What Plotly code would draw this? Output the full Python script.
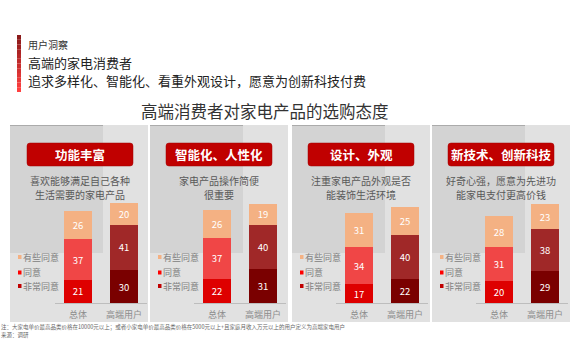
import plotly.graph_objects as go

W, H = 570, 360
FONT = "Noto Sans CJK SC"

# ---- data ----
categories = ["总体", "高端用户"]
levels = ["非常同意", "同意", "有些同意"]          # bottom -> top
legend_order = ["有些同意", "同意", "非常同意"]
headers = ["功能丰富", "智能化、人性化", "设计、外观", "新技术、创新科技"]
desc_line1 = ["喜欢能够满足自己各种", "家电产品操作简便", "注重家电产品外观是否", "好奇心强，愿意为先进功"]
desc_line2 = ["生活需要的家电产品", "很重要", "能装饰生活环境", "能家电支付更高价钱"]
# values per panel: [总体, 高端用户] for each level
very_agree = [[21, 30], [22, 31], [17, 22], [20, 29]]
agree = [[37, 41], [37, 40], [34, 40], [31, 38]]
somewhat_agree = [[26, 20], [26, 19], [31, 25], [28, 23]]

title_main = "高端消费者对家电产品的选购态度"
tag_text = "用户洞察"
head1 = "高端的家电消费者"
head2 = "追求多样化、智能化、看重外观设计，愿意为创新科技付费"
foot1 = "注：大家电单价最高品类价格在10000元以上；或者小家电单价最高品类价格在5000元以上+且家庭月收入万元以上的用户定义为高端家电用户"
foot2 = "来源：调研"

# ---- styles ----
colors_total = ["#de0000", "#f04646", "#f4b183"]
colors_high = ["#7a0000", "#a02828", "#f4b183"]
legend_colors = ["#f4b183", "#ff0000", "#c00000"]
offsets = [0, 139, 281, 421]
panel_starts = [10, 150, 292, 432]


def px(x):
    return x / W


def py(y):
    return 1 - y / H


def ann(x, y, text, size, color, xanchor="center", **kw):
    return dict(x=px(x), y=py(y), xref="paper", yref="paper", text=text,
                showarrow=False, xanchor=xanchor, yanchor="middle", borderpad=0,
                font=dict(size=size, color=color, family=FONT), **kw)


fig = go.Figure()
shapes = []
annotations = []

for p in range(4):
    off = offsets[p]
    xa = "x" if p == 0 else f"x{p+1}"
    ya = "y" if p == 0 else f"y{p+1}"
    series = [very_agree[p], agree[p], somewhat_agree[p]]
    for li, lvl in enumerate(levels):
        vals = series[li]
        fig.add_trace(go.Bar(
            x=categories, y=vals, xaxis=xa, yaxis=ya,
            name=lvl, showlegend=False,
            marker=dict(color=[colors_total[li], colors_high[li]], line=dict(width=0)),
            text=[str(v) for v in vals], textposition="inside",
            insidetextanchor="middle", textangle=0,
            textfont=dict(color="white", size=9.5, family=FONT),
            hoverinfo="skip",
        ))
    d0, d1 = px(55 + off), px(147 + off)
    fig.layout[f"xaxis{'' if p == 0 else p+1}"] = dict(
        domain=[d0, d1], anchor=ya, type="category", range=[-0.5, 1.5],
        showline=True, linecolor="#bdbdbd", linewidth=1, showgrid=False,
        zeroline=False, ticks="", tickfont=dict(size=9, color="#8c8c8c", family=FONT),
        ticklabelstandoff=3, fixedrange=True,
    )
    fig.layout[f"yaxis{'' if p == 0 else p+1}"] = dict(
        domain=[py(303), py(193)], anchor=xa, range=[0, 100], visible=False,
        fixedrange=True,
    )

    # panel backgrounds
    s = panel_starts[p]
    e = min(s + 138, 570)
    shapes.append(dict(type="rect", xref="paper", yref="paper", layer="below",
                       x0=px(s), x1=px(e), y0=py(322), y1=py(125),
                       fillcolor="#e1e1e1", line=dict(width=0)))
    shapes.append(dict(type="rect", xref="paper", yref="paper", layer="below",
                       x0=px(s), x1=px(s + 93), y0=py(253), y1=py(125),
                       fillcolor="#d3d3d3", line=dict(width=0)))
    shapes.append(dict(type="line", xref="paper", yref="paper", layer="below",
                       x0=px(s), x1=px(s + 93), y0=py(125.5), y1=py(125.5),
                       line=dict(color="#ababab", width=1)))

    # header rounded red box
    x0, x1, y0, y1, r = 27 + off, 133 + off, 143, 166, 3
    path = (f"M {px(x0+r)},{py(y0)} L {px(x1-r)},{py(y0)} Q {px(x1)},{py(y0)} {px(x1)},{py(y0+r)} "
            f"L {px(x1)},{py(y1-r)} Q {px(x1)},{py(y1)} {px(x1-r)},{py(y1)} "
            f"L {px(x0+r)},{py(y1)} Q {px(x0)},{py(y1)} {px(x0)},{py(y1-r)} "
            f"L {px(x0)},{py(y0+r)} Q {px(x0)},{py(y0)} {px(x0+r)},{py(y0)} Z")
    shapes.append(dict(type="path", xref="paper", yref="paper", path=path,
                       fillcolor="#c00000", line=dict(color="#a00000", width=0.5)))
    annotations.append(ann(80 + off, 154.5, f"<b>{headers[p]}</b>", 12.5, "white"))
    annotations.append(ann(80 + off, 180.5, desc_line1[p], 10, "#595959"))
    annotations.append(ann(80 + off, 194.5, desc_line2[p], 10, "#595959"))

    # legend
    ly = [257, 272.5, 286]
    for k, lab in enumerate(legend_order):
        shapes.append(dict(type="rect", xref="paper", yref="paper",
                           x0=px(s + 8), x1=px(s + 11.5), y0=py(ly[k] + 2), y1=py(ly[k] - 2),
                           fillcolor=legend_colors[k], line=dict(width=0)))
        annotations.append(ann(s + 12, ly[k], lab, 9, "#808080", xanchor="left"))

# top-left accent bar (gradient imitation)
nseg = 12
for i in range(nseg):
    t = i / (nseg - 1)
    rr = int(0x8b + (0xff - 0x8b) * t)
    gg = int(0x1a + (0x40 - 0x1a) * t)
    y_a = 35 + (92 - 35) * i / nseg
    y_b = 35 + (92 - 35) * (i + 1) / nseg
    shapes.append(dict(type="rect", xref="paper", yref="paper",
                       x0=px(17), x1=px(21), y0=py(y_b), y1=py(y_a),
                       fillcolor=f"rgb({rr},{gg},{gg})", line=dict(width=0)))

annotations += [
    ann(27, 44, tag_text, 10, "#333333", xanchor="left"),
    ann(27, 62, head1, 13, "#222222", xanchor="left"),
    ann(27, 81, head2, 13, "#222222", xanchor="left"),
    ann(265, 111, title_main, 16.5, "#333333"),
    ann(0, 327, foot1, 5.5, "#666666", xanchor="left"),
    ann(0, 334.5, foot2, 5.5, "#666666", xanchor="left"),
]

fig.update_layout(
    width=W, height=H, margin=dict(l=0, r=0, t=0, b=0),
    paper_bgcolor="white", plot_bgcolor="rgba(0,0,0,0)",
    barmode="stack", bargap=0.41, showlegend=False,
    uniformtext=dict(minsize=9, mode="show"),
    shapes=shapes, annotations=annotations,
    font=dict(family=FONT),
)

fig.write_html("out.html", config={"displayModeBar": False},
               post_script="document.body.style.margin='0';")
